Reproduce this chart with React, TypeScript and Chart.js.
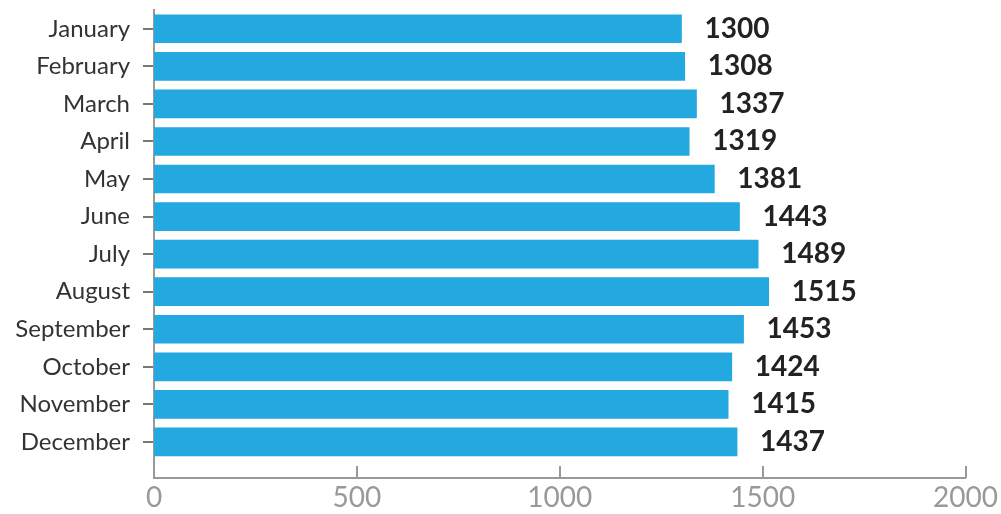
import React, { useEffect, useRef } from "react";
import { Chart, registerables } from "chart.js";

Chart.register(...registerables);

const months = ["January", "February", "March", "April", "May", "June", "July", "August", "September", "October", "November", "December"];
const values = [1300, 1308, 1337, 1319, 1381, 1443, 1489, 1515, 1453, 1424, 1415, 1437];
const xTicks = [0, 500, 1000, 1500, 2000];

const FONT = "Lato, 'Open Sans', sans-serif";

export default function App() {
  const ref = useRef<HTMLCanvasElement>(null);
  useEffect(() => {
    document.body.style.margin = "0";
    const ctx = ref.current!;
    const labelPlugin = {
      id: "valueLabels",
      afterDatasetsDraw(chart: any) {
        const c = chart.ctx;
        const meta = chart.getDatasetMeta(0);
        c.save();
        c.font = `bold 28px ${FONT}`;
        c.fillStyle = "#222222";
        c.textBaseline = "middle";
        c.textAlign = "left";
        meta.data.forEach((bar: any, i: number) => {
          c.fillText(String(values[i]), bar.x + 23, bar.y);
        });
        c.restore();
      },
      afterDraw(chart: any) {
        const c = chart.ctx;
        const xs = chart.scales.x;
        const bottom = chart.chartArea.bottom;
        c.save();
        c.strokeStyle = "#999999";
        c.lineWidth = 2;
        xTicks.forEach((t) => {
          if (t === 0) return;
          const px = Math.round(xs.getPixelForValue(t));
          c.beginPath();
          c.moveTo(px, bottom - 12);
          c.lineTo(px, bottom);
          c.stroke();
        });
        c.restore();
      },
    };
    const chart = new Chart(ctx, {
      type: "bar",
      data: {
        datasets: [
          {
            data: values.map((v, i) => ({ x: v, y: i })),
            backgroundColor: "#23a8e0",
            borderWidth: 0,
            barThickness: 28,
          },
        ],
      },
      options: {
        indexAxis: "y",
        animation: false,
        responsive: false,
        layout: { padding: { top: 10, right: 34, left: 0, bottom: 0 } },
        plugins: { legend: { display: false }, tooltip: { enabled: false } },
        scales: {
          y: {
            type: "linear",
            reverse: true,
            offset: false,
            min: -0.5,
            max: 11.96,
            afterBuildTicks: (s: any) => {
              s.ticks = months.map((_, i) => ({ value: i }));
            },
            afterFit: (s: any) => {
              s.width = 154;
              s.paddingTop = 0;
              s.paddingBottom = 0;
            },
            ticks: {
              autoSkip: false,
              callback: (v: any) => months[v as number] ?? "",
              color: "#333333",
              font: { family: FONT, size: 24 },
              padding: 13,
            },
            grid: {
              offset: false,
              drawOnChartArea: false,
              drawTicks: true,
              tickLength: 11,
              color: "#777777",
              lineWidth: 2,
            },
            border: { display: true, color: "#999999", width: 2 },
          },
          x: {
            type: "linear",
            min: 0,
            max: 2000,
            afterBuildTicks: (s: any) => {
              s.ticks = xTicks.map((v) => ({ value: v }));
            },
            afterFit: (s: any) => {
              s.height = 36;
            },
            ticks: {
              color: "#999999",
              font: { family: FONT, size: 28 },
              padding: 3,
              callback: (v: any) => String(v),
            },
            grid: { display: false, drawTicks: false },
            border: { display: true, color: "#999999", width: 2 },
          },
        },
      },
      plugins: [labelPlugin],
    } as any);
    return () => chart.destroy();
  }, []);
  return <canvas ref={ref} width={1001} height={514} style={{ display: "block" }} />;
}
